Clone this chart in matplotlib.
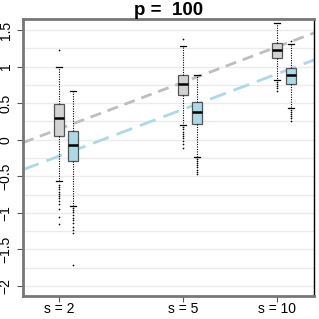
import matplotlib.pyplot as plt
import numpy as np

plt.rcParams['font.family'] = ['Liberation Sans', 'DejaVu Sans']

# settings on the x axis
s_values = [2, 5, 10]
s_labels = ['s = 2', 's = 5', 's = 10']

# box statistics: gray series, then blue series
gray_stats = {
    'q1':    [0.05, 0.61, 1.11],
    'med':   [0.29, 0.76, 1.22],
    'q3':    [0.49, 0.89, 1.32],
    'lo':    [-0.57, 0.20, 0.82],
    'hi':    [0.99, 1.28, 1.60],
}
gray_fliers = [
    [1.22, -0.62, -0.65, -0.68, -0.71, -0.74, -0.77, -0.80, -0.84, -0.88, -0.95, -1.06, -1.15],
    [1.38, 0.17, 0.14, 0.11, 0.08, 0.05, 0.02, -0.02, -0.06, -0.12],
    [0.79, 0.76, 0.73, 0.70, 0.66],
]
blue_stats = {
    'q1':    [-0.29, 0.22, 0.76],
    'med':   [-0.07, 0.38, 0.885],
    'q3':    [0.12, 0.52, 0.985],
    'lo':    [-0.90, -0.23, 0.44],
    'hi':    [0.67, 0.88, 1.31],
}
blue_fliers = [
    [-0.93, -0.96, -0.99, -1.03, -1.07, -1.10, -1.14, -1.19, -1.23, -1.28, -1.72],
    [-0.26, -0.29, -0.32, -0.35, -0.38, -0.41, -0.44, -0.47],
    [1.35, 0.41, 0.38, 0.35, 0.32, 0.29, 0.26],
]

# dashed reference lines: value = intercept + slope * log(s)
gray_line = (-0.338, 0.698)
blue_line = (-0.708, 0.698)

gray_fill = '#d3d3d3'
blue_fill = '#add8e6'

fig = plt.figure(figsize=(3.19, 3.19), dpi=100)
ax = fig.add_axes([23 / 319, 23 / 319, 291 / 319, 277 / 319])

logx = np.log(s_values)
offset = 0.103
width = 0.074

# light horizontal grid
for g in np.arange(-2.0, 1.51, 0.25):
    ax.axhline(g, color='#ebebeb', lw=1, zorder=0)

# dashed lines
xl = np.array([np.log(1.533), np.log(13.14)])
ax.plot(xl, gray_line[0] + gray_line[1] * xl, color='#bebebe', lw=2,
        dashes=(4, 2.5), zorder=1)
ax.plot(xl, blue_line[0] + blue_line[1] * xl, color=blue_fill, lw=2,
        dashes=(6, 3), zorder=1)


def draw(stats, fliers, positions, fill):
    bstats = []
    for i in range(len(positions)):
        bstats.append({
            'med': stats['med'][i], 'q1': stats['q1'][i], 'q3': stats['q3'][i],
            'whislo': stats['lo'][i], 'whishi': stats['hi'][i],
            'fliers': fliers[i],
        })
    ax.bxp(bstats, positions=positions, widths=width, patch_artist=True,
           capwidths=width * 0.6,
           boxprops=dict(facecolor=fill, edgecolor='#555555', lw=0.9),
           medianprops=dict(color='black', lw=1.8),
           whiskerprops=dict(color='black', lw=0.8, linestyle=(0, (1, 1.2))),
           capprops=dict(color='black', lw=0.9),
           flierprops=dict(marker='o', markersize=0.8, markerfacecolor='black',
                           markeredgecolor='black', markeredgewidth=0.4,
                           linestyle='none'),
           manage_ticks=False, zorder=2)


draw(gray_stats, gray_fliers, logx, gray_fill)
draw(blue_stats, blue_fliers, logx + offset, blue_fill)

ax.set_xlim(np.log(1.533), np.log(13.14))
ax.set_ylim(-2.137, 1.65)

ax.set_xticks(logx)
ax.set_xticklabels(s_labels, fontsize=10)
yt = [-2, -1.5, -1, -0.5, 0, 0.5, 1, 1.5]
ax.set_yticks(yt)
ax.set_yticklabels([('%g' % v).replace('-', '\u2212') for v in yt],
                   fontsize=10, rotation=90, va='center')
ax.tick_params(axis='x', length=4, pad=0.5, color='#555555')
ax.tick_params(axis='y', length=4, pad=3.5, color='#555555')

for side in ['left', 'bottom', 'top']:
    ax.spines[side].set_color('#777777')
    ax.spines[side].set_linewidth(2)
ax.spines['right'].set_color('black')
ax.spines['right'].set_linewidth(1)

ax.set_title('p =  100', fontsize=13.5, fontweight='bold', pad=1)

fig.savefig('out.png', dpi=100)
